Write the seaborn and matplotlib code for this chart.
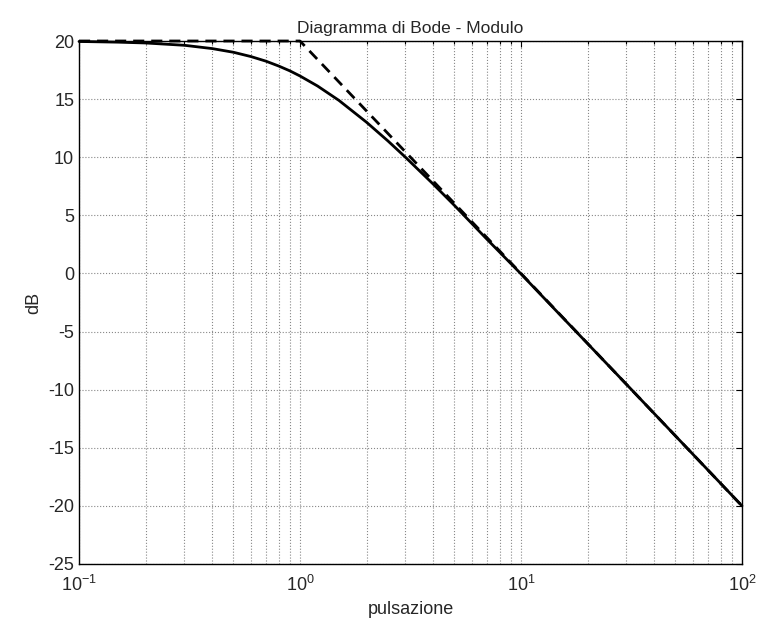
import numpy as np
import pandas as pd
import matplotlib
matplotlib.use("Agg")
import matplotlib.pyplot as plt
import seaborn as sns

# Values
omega = [0.1, 0.15, 0.2, 0.3, 0.4, 0.5, 0.6, 0.7, 0.8, 0.9, 1.0, 1.2, 1.5, 2.0,
         2.5, 3.0, 4.0, 5.0, 7.0, 10.0, 15.0, 20.0, 30.0, 50.0, 70.0, 100.0]
modulo_db = [19.96, 19.90, 19.83, 19.63, 19.35, 19.03, 18.66, 18.27, 17.85, 17.43,
             16.99, 16.13, 14.89, 13.01, 11.40, 10.00, 7.70, 5.85, 2.96, -0.04,
             -3.55, -6.03, -9.54, -13.98, -16.90, -20.00]

asint_omega = [0.1, 1.0, 100.0]
asint_db = [20.0, 20.0, -20.0]

df = pd.DataFrame({"pulsazione": omega, "dB": modulo_db})
df_as = pd.DataFrame({"pulsazione": asint_omega, "dB": asint_db})

sns.set_style("white")
plt.rcParams["font.family"] = ["Liberation Sans", "DejaVu Sans"]
plt.rcParams["axes.unicode_minus"] = False
plt.rcParams["mathtext.fontset"] = "custom"
plt.rcParams["mathtext.rm"] = "Liberation Sans"
plt.rcParams["mathtext.it"] = "Liberation Sans"

fig = plt.figure(figsize=(7.59, 6.26), dpi=100)
ax = fig.add_axes([79 / 759, 1 - 564 / 626, (742 - 79) / 759, (564 - 41) / 626])

sns.lineplot(data=df, x="pulsazione", y="dB", ax=ax, color="black", linewidth=2)
sns.lineplot(data=df_as, x="pulsazione", y="dB", ax=ax, color="black",
             linewidth=2, linestyle=(0, (4, 2.5)))
for ln in ax.lines:
    ln.set_clip_on(False)

ax.set_xscale("log")
ax.set_xlim(0.1, 100)
ax.set_ylim(-25, 20)
ax.set_yticks(np.arange(-25, 21, 5))
ax.set_xticks([0.1, 1, 10, 100])
ax.set_xticklabels([r"$10^{-1}$", r"$10^{0}$", r"$10^{1}$", r"$10^{2}$"])

ax.grid(True, which="major", color="#888888", linestyle=":", linewidth=0.8)
ax.grid(True, which="minor", axis="x", color="#888888", linestyle=":", linewidth=0.8)
ax.tick_params(which="both", direction="in", top=True, right=True,
               labelsize=13, length=4, width=0.8, color="black")
ax.tick_params(which="minor", length=2)
ax.tick_params(axis="x", pad=8)
for s in ax.spines.values():
    s.set_visible(True)
    s.set_color("black")
    s.set_linewidth(1)

ax.set_title("Diagramma di Bode - Modulo", fontsize=12.5)
ax.set_xlabel("pulsazione", fontsize=13)
ax.set_ylabel("dB", fontsize=13)

fig.savefig("out.png", dpi=100)
